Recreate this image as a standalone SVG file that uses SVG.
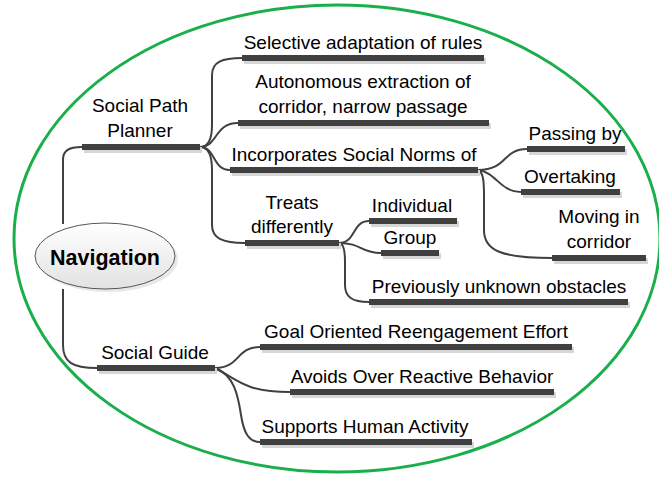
<svg xmlns="http://www.w3.org/2000/svg" width="659" height="477" viewBox="0 0 659 477">
<defs>
<linearGradient id="navg" x1="0" y1="0" x2="0" y2="1">
<stop offset="0" stop-color="#ffffff"/>
<stop offset="1" stop-color="#e2e2e2"/>
</linearGradient>
</defs>
<style>
.t{font-family:"Liberation Sans",Arial,sans-serif;font-size:19px;fill:#000;text-anchor:middle}
.nav{font-family:"Liberation Sans",Arial,sans-serif;font-size:21.5px;font-weight:bold;fill:#000;text-anchor:middle}
.bar{fill:#404040}
.sh{fill:#d6d6d6}
.c{fill:none;stroke:#404040;stroke-width:2}
</style>
<rect width="659" height="477" fill="#ffffff"/>
<ellipse cx="337" cy="238.5" rx="323" ry="233.5" fill="none" stroke="#1aaf4b" stroke-width="3"/>
<g id="connectors">
<path class="c" d="M63,224 L63,160 C63,151 68,147 82,147"/>
<path class="c" d="M63,289 L63,345 C63,362 72,368 97,368"/>
<path class="c" d="M200,147 C208,147 212,140 212,125 L212,75 C212,62 222,58 242,58"/>
<path class="c" d="M200,147 C218,147 214,123 238,123"/>
<path class="c" d="M200,147 C216,147 212,170 230,170"/>
<path class="c" d="M200,147 C208,147 212,155 212,170 L212,225 C212,238 222,243 245,243"/>
<path class="c" d="M339,243 C356,243 352,221 369,221"/>
<path class="c" d="M339,243 C362,243 360,253 381,253"/>
<path class="c" d="M339,243 C343,243 345,250 345,262 L345,285 C345,297 352,302 369,302"/>
<path class="c" d="M478,170 C508,170 502,149 527,149"/>
<path class="c" d="M478,170 C496,172 500,192 521,192"/>
<path class="c" d="M478,170 C483,172 484,180 484,195 L484,230 C484,250 500,258 552,258"/>
<path class="c" d="M215,368 C240,368 236,347 260,347"/>
<path class="c" d="M215,368 C238,380 245,392 290,392"/>
<path class="c" d="M215,368 C234,375 238,395 241,415 C244,435 250,442 260,442"/>
</g>
<g id="navigation">
<ellipse cx="108" cy="259" rx="70" ry="33" fill="#d8d8d8" opacity="0.6"/>
<ellipse cx="105" cy="256" rx="70" ry="33" fill="url(#navg)" stroke="#555" stroke-width="1"/>
<text class="nav" x="105" y="265">Navigation</text>
</g>
<g id="social-path-planner">
<rect class="sh" x="84" y="147" width="118" height="6"/>
<rect class="bar" x="82" y="144" width="118" height="6"/>
<text class="t" x="140" y="112">Social Path</text>
<text class="t" x="140" y="137">Planner</text>
</g>
<g id="selective">
<rect class="sh" x="244" y="58" width="242" height="6"/>
<rect class="bar" x="242" y="55" width="242" height="6"/>
<text class="t" x="363" y="49">Selective adaptation of rules</text>
</g>
<g id="autonomous">
<rect class="sh" x="240" y="123" width="251" height="6"/>
<rect class="bar" x="238" y="120" width="251" height="6"/>
<text class="t" x="363" y="88">Autonomous extraction of</text>
<text class="t" x="363" y="113">corridor, narrow passage</text>
</g>
<g id="incorporates">
<rect class="sh" x="232" y="170" width="248" height="6"/>
<rect class="bar" x="230" y="167" width="248" height="6"/>
<text class="t" x="354" y="161">Incorporates Social Norms of</text>
</g>
<g id="treats">
<rect class="sh" x="247" y="243" width="94" height="6"/>
<rect class="bar" x="245" y="240" width="94" height="6"/>
<text class="t" x="292" y="209">Treats</text>
<text class="t" x="292" y="233">differently</text>
</g>
<g id="individual">
<rect class="sh" x="371" y="221" width="88" height="6"/>
<rect class="bar" x="369" y="218" width="88" height="6"/>
<text class="t" x="412" y="212">Individual</text>
</g>
<g id="group">
<rect class="sh" x="383" y="253" width="58" height="6"/>
<rect class="bar" x="381" y="250" width="58" height="6"/>
<text class="t" x="410" y="244">Group</text>
</g>
<g id="previously">
<rect class="sh" x="371" y="302" width="259" height="6"/>
<rect class="bar" x="369" y="299" width="259" height="6"/>
<text class="t" x="499" y="293">Previously unknown obstacles</text>
</g>
<g id="passing-by">
<rect class="sh" x="529" y="149" width="98" height="6"/>
<rect class="bar" x="527" y="146" width="98" height="6"/>
<text class="t" x="575" y="140">Passing by</text>
</g>
<g id="overtaking">
<rect class="sh" x="523" y="192" width="99" height="6"/>
<rect class="bar" x="521" y="189" width="99" height="6"/>
<text class="t" x="570" y="183">Overtaking</text>
</g>
<g id="moving">
<rect class="sh" x="554" y="258" width="94" height="6"/>
<rect class="bar" x="552" y="255" width="94" height="6"/>
<text class="t" x="599" y="223">Moving in</text>
<text class="t" x="599" y="248">corridor</text>
</g>
<g id="social-guide">
<rect class="sh" x="99" y="368" width="118" height="6"/>
<rect class="bar" x="97" y="365" width="118" height="6"/>
<text class="t" x="155" y="359">Social Guide</text>
</g>
<g id="goal">
<rect class="sh" x="262" y="347" width="312" height="6"/>
<rect class="bar" x="260" y="344" width="312" height="6"/>
<text class="t" x="416" y="338">Goal Oriented Reengagement Effort</text>
</g>
<g id="avoids">
<rect class="sh" x="292" y="392" width="264" height="6"/>
<rect class="bar" x="290" y="389" width="264" height="6"/>
<text class="t" x="422" y="383">Avoids Over Reactive Behavior</text>
</g>
<g id="supports">
<rect class="sh" x="262" y="442" width="212" height="6"/>
<rect class="bar" x="260" y="439" width="212" height="6"/>
<text class="t" x="365" y="433">Supports Human Activity</text>
</g>
</svg>
